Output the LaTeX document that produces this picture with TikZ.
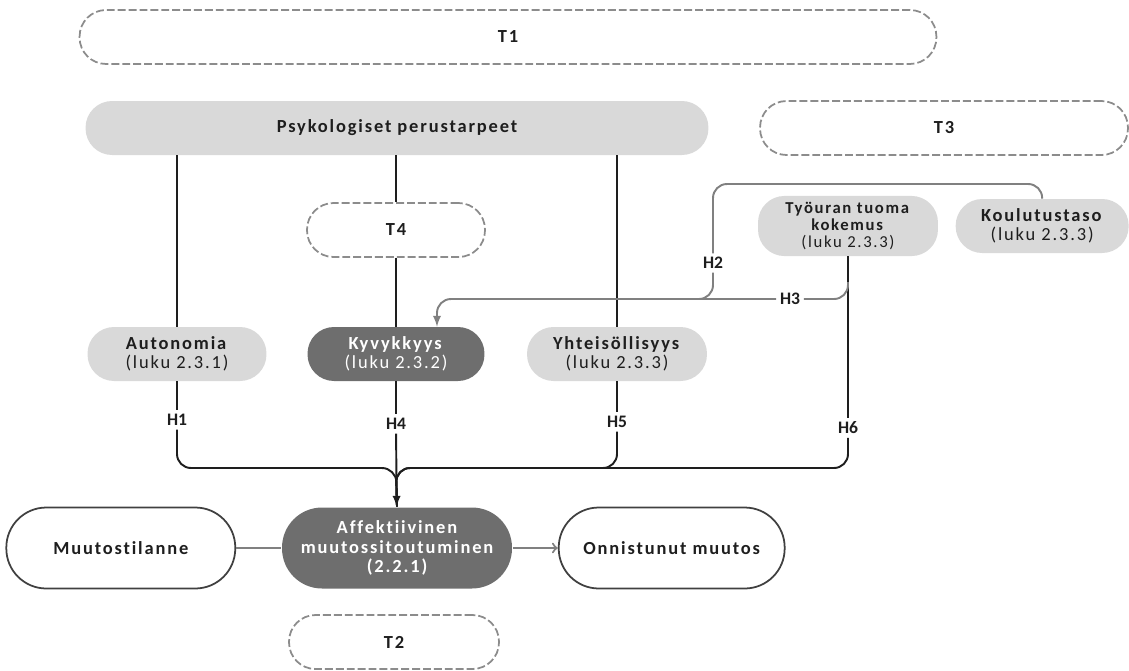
\documentclass[tikz,border=0pt]{standalone}
\usepackage{fontspec}
\setmainfont{Carlito}
\newfontfamily\spaced[LetterSpace=10, Ligatures=NoCommon]{Carlito}
\usepackage{tikz}
\usetikzlibrary{positioning}
\definecolor{boxgray}{HTML}{D9D9D9}
\definecolor{darkbox}{HTML}{6E6E6E}
\definecolor{dashgray}{HTML}{8C8C8C}
\definecolor{linegray}{HTML}{808080}
\definecolor{inkgray}{HTML}{1E1E1E}
\tikzset{
  pill/.style={rectangle, rounded corners=0.53cm, minimum height=1.08cm, align=center,
    text=inkgray, font=\spaced\fontsize{10.5}{10.8}\selectfont},
  lightpill/.style={pill, fill=boxgray},
  darkpill/.style={pill, fill=darkbox, text=white},
  dashpill/.style={pill, draw=dashgray, line width=1pt, dash pattern=on 4.5pt off 1.7pt,
    font=\spaced\bfseries\fontsize{10.5}{12}\selectfont},
  openpill/.style={rectangle, rounded corners=0.8cm, minimum height=1.62cm, align=center,
    draw=black!75, line width=1pt, text=inkgray, font=\spaced\bfseries\fontsize{10.5}{12}\selectfont},
  bigdark/.style={openpill, draw=none, fill=darkbox, text=white,
    font=\spaced\bfseries\fontsize{10.5}{11.3}\selectfont},
  hlabel/.style={fill=white, inner sep=2pt, text=inkgray, font=\bfseries\fontsize{10}{12}\selectfont},
  conn/.style={line width=1.1pt, draw=inkgray, rounded corners=0.28cm},
  grayconn/.style={conn, draw=linegray},
  flow/.style={line width=1.2pt, draw=linegray}
}
\begin{document}
\begin{tikzpicture}[x=0.02cm, y=-0.02cm, >=latex]
  \useasboundingbox (0,0) rectangle (1129,670);

  \node (t1) [dashpill, minimum width=17.14cm] at (508,37) {T1};
  \node (psyk) [lightpill, minimum width=12.46cm, font=\spaced\bfseries\fontsize{10.5}{12}\selectfont] at (397,128) {Psykologiset perustarpeet};
  \node (t3) [dashpill, minimum width=7.36cm] at (944,128) {T3};
  \node (t4) [dashpill, minimum width=3.56cm] at (396,230) {T4};

  \node (tyo) [lightpill, minimum width=3.6cm, minimum height=1.06cm, font=\spaced\fontsize{9.5}{9.9}\selectfont] at (848,226) {\textbf{Työuran tuoma}\\\textbf{kokemus}\\(luku 2.3.3)};
  \node (koul) [lightpill, minimum width=3.46cm, right=0.34cm of tyo] {\textbf{Koulutustaso}\\(luku 2.3.3)};

  \node (auto) [lightpill, minimum width=3.58cm] at (177,354) {\textbf{Autonomia}\\(luku 2.3.1)};
  \node (kyv) [darkpill, minimum width=3.54cm] at (396,354) {\textbf{Kyvykkyys}\\(luku 2.3.2)};
  \node (yht) [lightpill, minimum width=3.6cm] at (617,354) {\textbf{Yhteisöllisyys}\\(luku 2.3.3)};

  \node (aff) [bigdark, minimum width=4.6cm] at (397,548) {Affektiivinen\\muutossitoutuminen\\(2.2.1)};
  \node (muut) [openpill, minimum width=4.58cm, left=0.9cm of aff] {Muutostilanne};
  \node (onn) [openpill, minimum width=4.52cm, right=0.9cm of aff] {Onnistunut muutos};
  \node (t2) [dashpill, minimum width=4.2cm] at (394,642) {T2};

  \node (h1) [hlabel] at (177,420) {H1};
  \node (h4) [hlabel] at (396,424) {H4};
  \node (h5) [hlabel] at (617,422) {H5};
  \node (h6) [hlabel] at (848,428) {H6};
  \node (h2) [hlabel] at (713,263) {H2};
  \node (h3) [hlabel] at (790,299) {H3};
  \coordinate (join) at (396,468);
  \coordinate (h2top) at (713,184);
  \coordinate (h2end) at (680,299);
  \coordinate (h3start) at (848,282);

  \draw[conn] (auto |- psyk.south) -- (auto);
  \draw[conn] (t4 |- psyk.south) -- (t4);
  \draw[conn] (yht |- psyk.south) -- (yht);
  \draw[conn] (t4) -- (kyv);

  \draw[conn] (auto) -- (h1);
  \draw[conn] (kyv) -- (h4);
  \draw[conn] (yht) -- (h5);
  \draw[conn] (tyo) -- (h6);
  \draw[conn] (h1) |- (join) -- (aff.north);
  \draw[conn] (h5) |- (join) -- (aff.north);
  \draw[conn] (h6) |- (join) -- (aff.north);
  \draw[conn,->] (h4) -- (aff);

  \draw[grayconn] (h3start) |- (h3);
  \draw[grayconn,->] (h3) -| ([xshift=0.82cm]kyv.north);
  \draw[grayconn] (koul.north) |- (h2top) -- (h2);
  \draw[grayconn] (h2) |- (h2end);

  \draw[flow] (muut) -- (aff);
  \draw[flow,-to] (aff) -- (onn);
\end{tikzpicture}
\end{document}
